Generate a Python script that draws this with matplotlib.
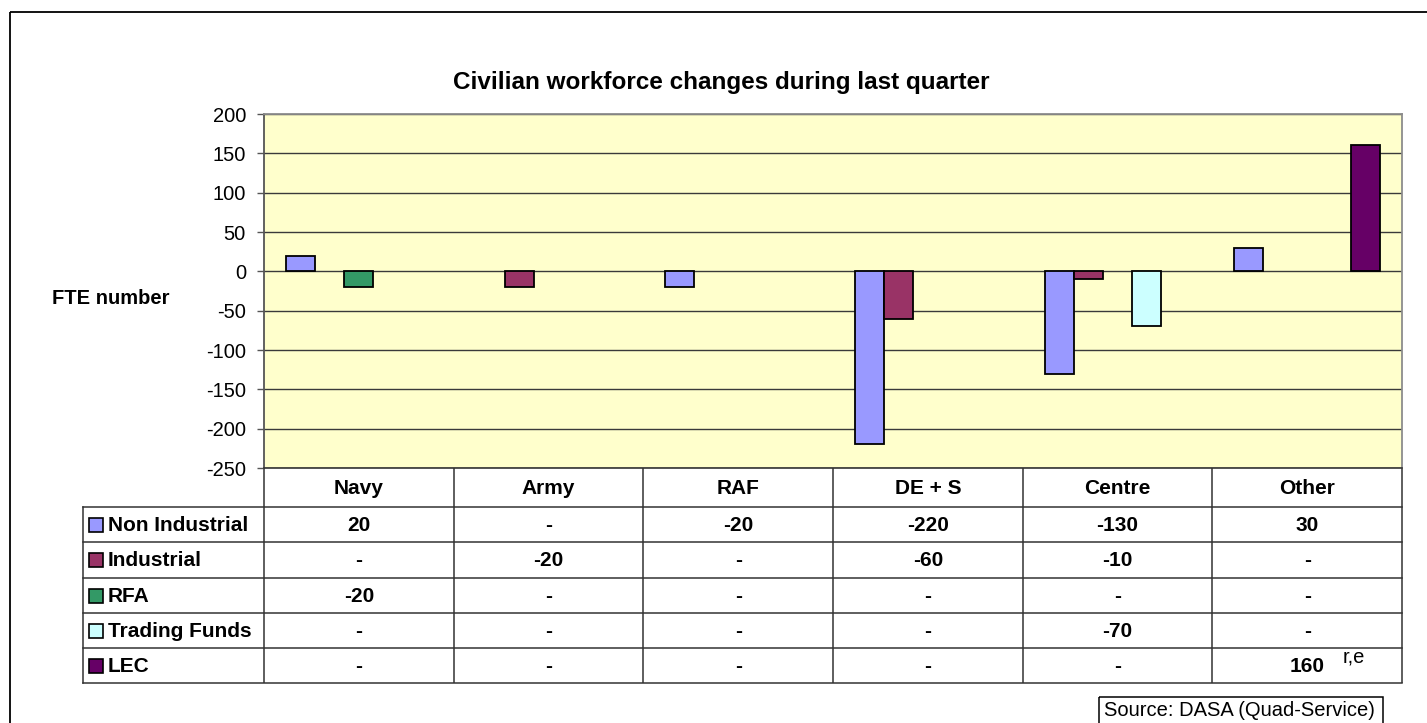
import matplotlib
matplotlib.use("Agg")
import matplotlib.pyplot as plt
from matplotlib.patches import Rectangle
import numpy as np

plt.rcParams['font.family'] = ['Liberation Sans', 'DejaVu Sans']

categories = ["Navy", "Army", "RAF", "DE + S", "Centre", "Other"]
series_names = ["Non Industrial", "Industrial", "RFA", "Trading Funds", "LEC"]
non_industrial = [20, None, -20, -220, -130, 30]
industrial = [None, -20, None, -60, -10, None]
rfa = [-20, None, None, None, None, None]
trading_funds = [None, None, None, None, -70, None]
lec = [None, None, None, None, None, 160]
series_values = [non_industrial, industrial, rfa, trading_funds, lec]
colors = ["#9999FF", "#993366", "#339966", "#CCFFFF", "#660066"]
yticks = [-250, -200, -150, -100, -50, 0, 50, 100, 150, 200]

W, H = 1427, 723
fig = plt.figure(figsize=(W / 100, H / 100), dpi=100)

def px_axes(x0, y0, x1, y1):
    return fig.add_axes([x0 / W, 1 - y1 / H, (x1 - x0) / W, (y1 - y0) / H])

# overlay in pixel coords
ov = fig.add_axes([0, 0, 1, 1])
ov.set_xlim(0, W)
ov.set_ylim(H, 0)
ov.axis('off')
ov.set_zorder(0)

# outer frame (extends beyond the figure at right/bottom)
ov.add_patch(Rectangle((9.5, 12), 1440, 760, fill=False, edgecolor='black', lw=1.3))

AX_L, AX_T, AX_R, AX_B = 264, 114, 1402, 468
ax = px_axes(AX_L, AX_T, AX_R, AX_B)
ax.set_zorder(2)
ax.set_facecolor("#FFFFCC")
n = len(series_names)
ncat = len(categories)
bw = 1 / (n + 1.5)
x = np.arange(ncat)
for i, (vals, c) in enumerate(zip(series_values, colors)):
    for j, v in enumerate(vals):
        if v is None:
            continue
        ax.bar(x[j] - 0.5 + 0.75 * bw + i * bw + bw / 2, v, width=bw, color=c,
               edgecolor='black', linewidth=1.3, zorder=3)
ax.set_xlim(-0.5, ncat - 0.5)
ax.set_ylim(-250, 200)
ax.set_yticks(yticks)
ax.set_yticklabels([str(t) for t in yticks], fontsize=14.5)
ax.set_xticks([])
ax.yaxis.grid(True, color='#3a3a3a', linewidth=1.0, zorder=1)
ax.set_axisbelow(True)
ax.tick_params(axis='y', direction='out', length=5, width=1, color='#555555', pad=8)
for s in ['top', 'right']:
    ax.spines[s].set_color('#8c8c8c')
    ax.spines[s].set_linewidth(1.3)
ax.spines['left'].set_color('#555555')
ax.spines['left'].set_linewidth(1.3)
ax.spines['bottom'].set_color('#333333')
ax.spines['bottom'].set_linewidth(1.2)

# title and y label
ov.text(721, 83, "Civilian workforce changes during last quarter", ha='center', va='center',
        fontsize=17.5, fontweight='bold')
ov.text(52, 298, "FTE number", ha='left', va='center', fontsize=14.5, fontweight='bold')

# data table
col_w = (AX_R - AX_L) / ncat
col_edges = [AX_L + k * col_w for k in range(ncat + 1)]
LEG_L = 83
row_edges = [AX_B, 507, 542, 578, 613, 648, 683]
lc = '#333333'
lw = 1.1
for xe in col_edges:
    ov.plot([xe, xe], [row_edges[0], row_edges[-1]], color=lc, lw=lw, solid_capstyle='butt')
ov.plot([LEG_L, LEG_L], [row_edges[1], row_edges[-1]], color=lc, lw=lw)
for ye in row_edges[1:]:
    ov.plot([LEG_L, AX_R], [ye, ye], color=lc, lw=lw)

for k, cat in enumerate(categories):
    cx = (col_edges[k] + col_edges[k + 1]) / 2
    ov.text(cx, (row_edges[0] + row_edges[1]) / 2 + 1, cat, ha='center', va='center',
            fontsize=15, fontweight='bold')

for i, (name, vals, c) in enumerate(zip(series_names, series_values, colors)):
    yc = (row_edges[i + 1] + row_edges[i + 2]) / 2
    ov.add_patch(Rectangle((89, yc - 7), 14, 14, facecolor=c, edgecolor='black', lw=1.2))
    ov.text(108, yc + 1, name, ha='left', va='center', fontsize=15, fontweight='bold')
    for k, v in enumerate(vals):
        cx = (col_edges[k] + col_edges[k + 1]) / 2
        ov.text(cx, yc + 1, "-" if v is None else str(v), ha='center', va='center',
                fontsize=15, fontweight='bold')

ov.text(1343, 657, "r,e", ha='left', va='center', fontsize=14.5)

# source box
ov.add_patch(Rectangle((1099, 697), 284, 40, fill=False, edgecolor='black', lw=1.1))
ov.text(1104, 711, "Source: DASA (Quad-Service)", ha='left', va='center', fontsize=14.5)

fig.savefig("out.png", dpi=100)
